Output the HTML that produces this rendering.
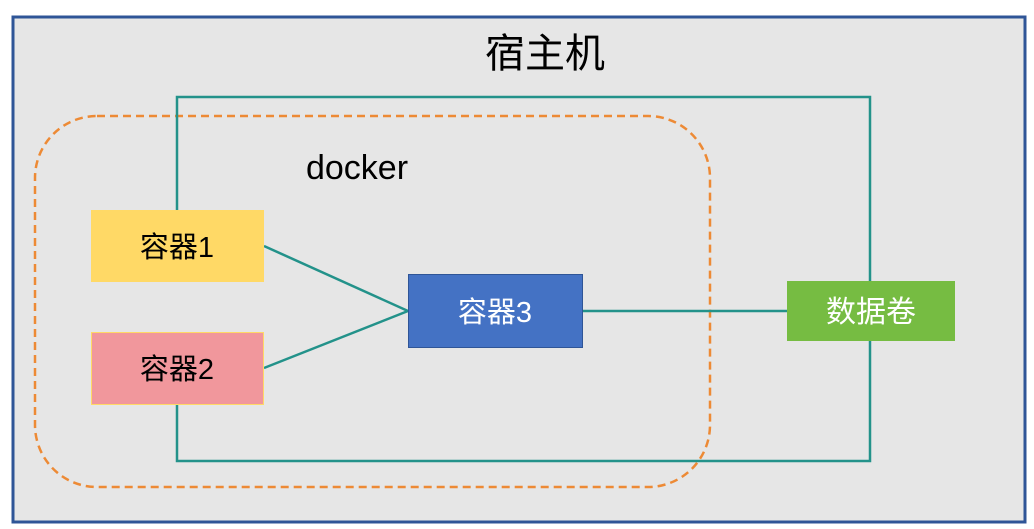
<!DOCTYPE html>
<html><head><meta charset="utf-8"><style>
body{margin:0;width:1034px;height:529px;background:#fff;overflow:hidden;font-family:"Liberation Sans","Noto Sans CJK SC",sans-serif;}
</style></head><body>
<svg width="1034" height="529" xmlns="http://www.w3.org/2000/svg" style="position:absolute;left:0;top:0">
<rect x="13" y="17" width="1012" height="505" fill="#e6e6e6" stroke="#2f5597" stroke-width="3"/>
<text x="545" y="67" font-size="40" text-anchor="middle" fill="#000" font-family="Liberation Sans,Noto Sans CJK SC,sans-serif">宿主机</text>
<rect x="35" y="116" width="675" height="371" rx="62" fill="none" stroke="#ed8a35" stroke-width="2.5" stroke-dasharray="8,5"/>
<text x="357" y="179" font-size="34" text-anchor="middle" fill="#000" font-family="Liberation Sans,sans-serif">docker</text>
<polyline points="177,210 177,97 870,97 870,281" fill="none" stroke="#23928a" stroke-width="2.5"/>
<polyline points="177,405 177,461 870,461 870,340" fill="none" stroke="#23928a" stroke-width="2.5"/>
<line x1="264" y1="246" x2="408" y2="311" stroke="#23928a" stroke-width="2.5"/>
<line x1="264" y1="368" x2="408" y2="311" stroke="#23928a" stroke-width="2.5"/>
<line x1="582" y1="311" x2="787" y2="311" stroke="#23928a" stroke-width="2.5"/>
<rect x="91" y="210" width="173" height="72" fill="#ffd966"/>
<text x="177" y="257" font-size="29" text-anchor="middle" fill="#000" font-family="Liberation Sans,Noto Sans CJK SC,sans-serif">容器1</text>
<rect x="91.5" y="332.5" width="172" height="72" fill="#f1979c" stroke="#ffd966" stroke-width="1"/>
<text x="177" y="379" font-size="29" text-anchor="middle" fill="#000" font-family="Liberation Sans,Noto Sans CJK SC,sans-serif">容器2</text>
<rect x="408.5" y="274.5" width="174" height="73" fill="#4472c4" stroke="#2f5597" stroke-width="1"/>
<text x="495" y="322" font-size="29" text-anchor="middle" fill="#fff" font-family="Liberation Sans,Noto Sans CJK SC,sans-serif">容器3</text>
<rect x="787" y="281" width="168" height="60" fill="#76bc42"/>
<text x="871" y="322" font-size="30" text-anchor="middle" fill="#fff" font-family="Liberation Sans,Noto Sans CJK SC,sans-serif">数据卷</text>
</svg>
</body></html>
